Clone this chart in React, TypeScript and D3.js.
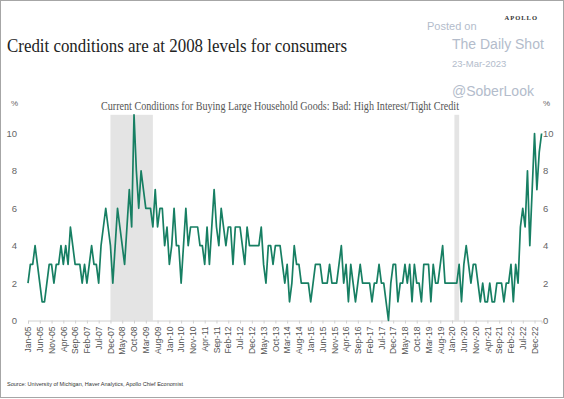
import React, { useRef, useEffect } from 'react';
import * as d3 from 'd3';

// monthly readings, Jan-05 .. Mar-23 (% saying bad time: high interest / tight credit)
const values = [
  2, 3, 3, 4, 3, 2, 1, 1, 2, 3,
  3, 2, 3, 3, 4, 3, 4, 3, 5, 4,
  3, 3, 3, 2, 3, 2, 3, 4, 3, 3,
  2, 4, 5, 6, 5, 4, 2, 4, 6, 5,
  4, 3, 5, 7, 5, 11, 8, 6, 8, 7,
  6, 6, 6, 5, 7, 5, 6, 6, 4, 5,
  3, 4, 6, 4, 4, 2, 4, 6, 4, 5,
  5, 5, 5, 4, 4, 3, 5, 3, 5, 7,
  5, 4, 6, 5, 4, 5, 5, 3, 5, 5,
  5, 4, 3, 5, 4, 4, 4, 4, 4, 5,
  3, 2, 4, 4, 3, 4, 4, 4, 3, 2,
  3, 1, 2, 4, 3, 3, 2, 2, 2, 2,
  1, 2, 3, 3, 3, 2, 2, 2, 3, 2,
  2, 2, 3, 4, 2, 3, 1, 3, 2, 1,
  2, 3, 2, 2, 2, 2, 1, 2, 2, 3,
  2, 2, 1, 0, 2, 3, 3, 1, 2, 2,
  3, 2, 3, 1, 3, 2, 2, 1, 3, 3,
  3, 1, 3, 2, 2, 3, 4, 2, 2, 2,
  2, 2, 2, 3, 1, 3, 4, 3, 2, 3,
  3, 2, 1, 2, 1, 1, 2, 1, 1, 2,
  2, 2, 1, 2, 2, 3, 1, 3, 2, 5,
  6, 5, 8, 4, 7, 10, 7, 9, 10,
];
const startYear = 2005;
const months = values.map((_, i) => new Date(startYear, i, 1));
const yTicks = [0, 2, 4, 6, 8, 10];
// recessions (month index start, end)
const recessions = [[35, 53], [181, 183]];

const title = 'Credit conditions are at 2008 levels for consumers';
const subtitle = 'Current Conditions for Buying Large Household Goods: Bad: High Interest/Tight Credit';
const source = 'Source: University of Michigan, Haver Analytics, Apollo Chief Economist';

const Chart = () => {
  const ref = useRef<SVGSVGElement>(null);

  useEffect(() => {
    if (!ref.current) return;
    const W = 564, H = 399;
    const svg = d3.select(ref.current);
    svg.selectAll('*').remove();
    svg.attr('width', W).attr('height', H);

    svg.append('rect').attr('x', 0.5).attr('y', 0.5).attr('width', W - 1).attr('height', H - 2)
      .attr('fill', 'white').attr('stroke', '#a6a6a6');

    const x = d3.scaleLinear().domain([0, values.length - 1]).range([28, 541.6]);
    const y = d3.scaleLinear().domain([0, 11]).range([320.5, 114.8]);
    const fmt = d3.timeFormat('%b-%y');

    // recession shading
    svg.append('g').selectAll('rect').data(recessions).enter().append('rect')
      .attr('x', d => x(d[0]))
      .attr('width', d => x(d[1]) - x(d[0]))
      .attr('y', y(11))
      .attr('height', y(0) - y(11))
      .attr('fill', '#e4e4e4');

    // titles
    svg.append('text').attr('x', 7).attr('y', 52).attr('font-family', 'Liberation Serif, serif')
      .attr('font-size', 18).attr('fill', '#222').attr('textLength', 340).attr('lengthAdjust', 'spacingAndGlyphs')
      .text(title);
    svg.append('text').attr('x', 101).attr('y', 110).attr('font-family', 'Liberation Serif, serif')
      .attr('font-size', 11.5).attr('fill', '#555').attr('textLength', 358).attr('lengthAdjust', 'spacingAndGlyphs')
      .text(subtitle);
    svg.append('text').attr('x', 538).attr('y', 20).attr('text-anchor', 'end')
      .attr('font-family', 'Liberation Serif, serif').attr('font-size', 6.5).attr('font-weight', 'bold')
      .attr('letter-spacing', 1).attr('fill', '#333').text('APOLLO');

    // watermark
    const wm = svg.append('g').attr('font-family', 'Liberation Sans, Arial, sans-serif').attr('fill', '#b3bccb');
    wm.append('text').attr('x', 427).attr('y', 30).attr('font-size', 11).text('Posted on');
    wm.append('text').attr('x', 452).attr('y', 49).attr('font-size', 14).text('The Daily Shot');
    wm.append('text').attr('x', 452).attr('y', 67).attr('font-size', 9.5).text('23-Mar-2023');
    wm.append('text').attr('x', 452).attr('y', 96).attr('font-size', 14).text('@SoberLook');

    // % labels
    const ax = svg.append('g').attr('font-family', 'Liberation Sans, Arial, sans-serif').attr('fill', '#666');
    ax.append('text').attr('x', 11).attr('y', 106).attr('font-size', 8).text('%');
    ax.append('text').attr('x', 543).attr('y', 106).attr('font-size', 8).text('%');

    // y labels left & right
    ax.selectAll('text.yl').data(yTicks).enter().append('text').attr('class', 'yl')
      .attr('x', 17).attr('y', d => y(d) + 3.5).attr('text-anchor', 'end').attr('font-size', 9.5)
      .text(d => d);
    ax.selectAll('text.yr').data(yTicks).enter().append('text').attr('class', 'yr')
      .attr('x', 543).attr('y', d => y(d) + 3.5).attr('text-anchor', 'start').attr('font-size', 9.5)
      .text(d => d);

    // x axis
    const tickIdx = d3.range(0, values.length, 5);
    const xAxis = svg.append('g').attr('transform', `translate(0,${y(0)})`)
      .call(d3.axisBottom(x).tickValues(tickIdx).tickSize(3).tickFormat(d => fmt(months[d as number])));
    xAxis.select('.domain').attr('stroke', '#d0d0d0');
    xAxis.selectAll('line').attr('stroke', '#d0d0d0');
    xAxis.selectAll('text')
      .attr('font-family', 'Liberation Sans, Arial, sans-serif')
      .attr('font-size', 8.5).attr('fill', '#555')
      .attr('transform', 'rotate(-90)')
      .attr('text-anchor', 'end')
      .attr('x', -6).attr('y', 0).attr('dy', '0.32em');

    // line
    const line = d3.line<number>().x((_, i) => x(i)).y(d => y(d));
    svg.append('path').datum(values).attr('d', line).attr('fill', 'none')
      .attr('stroke', '#177f63').attr('stroke-width', 1.7).attr('stroke-linejoin', 'round');

    svg.append('text').attr('x', 7).attr('y', 386).attr('font-family', 'Liberation Sans, Arial, sans-serif')
      .attr('font-size', 5.5).attr('fill', '#333').attr('textLength', 176).attr('lengthAdjust', 'spacingAndGlyphs')
      .text(source);
  }, []);

  return <svg ref={ref} style={{ position: 'absolute', left: 0, top: 0, display: 'block' }} />;
};

export default function App() {
  return <Chart />;
}
